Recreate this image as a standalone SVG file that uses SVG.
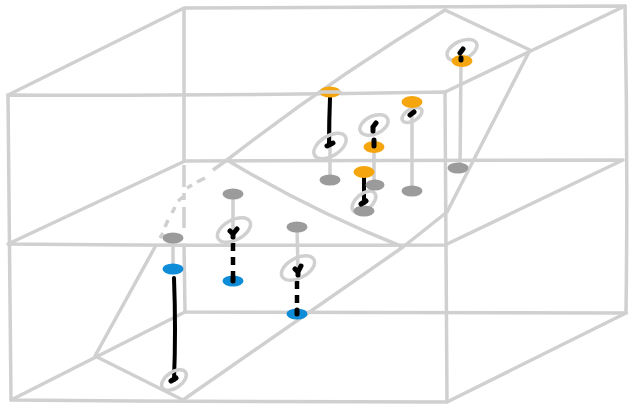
<svg xmlns="http://www.w3.org/2000/svg" width="631" height="405" viewBox="0 0 631 405">
<style>
.g{fill:none;stroke:#d0d0d0;stroke-width:3.5;stroke-linecap:round;stroke-linejoin:round}
.d{stroke-linecap:butt}
.s{fill:none;stroke:#d0d0d0;stroke-width:3.5;stroke-linecap:round}
.k{fill:none;stroke:#000;stroke-width:4;stroke-linecap:round;stroke-linejoin:round}
.kd{fill:none;stroke:#000;stroke-width:4.5;stroke-dasharray:8 6}
.t{fill:none;stroke:#000;stroke-width:5;stroke-linecap:round;stroke-linejoin:round}
.o{fill:#f5a60f}.b{fill:#0f8cd8}.h{fill:#9b9b9b}
</style>
<g id="box">
<path class="g" d="M8 95Q200 96 445 92L447 402Q230 402 11 400Q9 240 8 95Z"/>
<path class="g" d="M8 95L184 8Q400 8 625 6Q628 160 626 313Q400 313 185 312L184 245M184 161L184 8"/>
<path class="g" d="M445 92L625 6M11 400L185 312M447 402L626 313"/>
<path class="g" d="M8 244L185 161Q400 161 623 160L445 245Q220 246 8 244Z"/>
<path class="g" d="M445 10L530 50L447 212L403 247L183 400L95 356L155 247M445 10Q330 80 227 160Q310 210 403 247"/>
<path class="g d" d="M184 165V187M184 193V200M184 207V228M227 160L213 170M205 178L197 182M192 185L187 188M183 197L178 201M175 207L172 213M168 220L165 227M163 233L160 238"/>
</g>
<g id="connectors">
<path class="s" d="M330 92V180M374 147V185M412 103L412 190M461 62L460 168M233 194V231M173 238V269M297 227L298 268"/>
<path class="k" d="M330 98Q329 120 329 144M364 172V203M174 278Q176 330 174 380"/>
<path class="kd" d="M233 243V281M297 281V314"/>
</g>
<g id="rings">
<ellipse class="s" cx="330" cy="146" rx="18" ry="10" transform="rotate(-32 330 146)"/>
<ellipse class="s" cx="374" cy="125" rx="15" ry="9" transform="rotate(-25 374 125)"/>
<ellipse class="s" cx="412" cy="115" rx="11" ry="6" transform="rotate(-30 412 115)"/>
<ellipse class="s" cx="364" cy="202" rx="14" ry="8" transform="rotate(-40 364 202)"/>
<ellipse class="s" cx="462" cy="50" rx="16" ry="9" transform="rotate(-25 462 50)"/>
<ellipse class="s" cx="234" cy="230" rx="18" ry="10" transform="rotate(-28 234 230)"/>
<ellipse class="s" cx="298" cy="268" rx="18" ry="10" transform="rotate(-28 298 268)"/>
<ellipse class="s" cx="174" cy="380" rx="14" ry="8" transform="rotate(-35 174 380)"/>
</g>
<g id="discs">
<ellipse class="h" cx="330" cy="180" rx="10.500" ry="5.500"/>
<ellipse class="h" cx="375" cy="185" rx="9.500" ry="5.500"/>
<ellipse class="h" cx="412" cy="191" rx="10.500" ry="5.500"/>
<ellipse class="h" cx="458" cy="168" rx="10.500" ry="5.500"/>
<ellipse class="h" cx="364" cy="211" rx="10.500" ry="5.500"/>
<ellipse class="h" cx="233" cy="194" rx="10.500" ry="5.500"/>
<ellipse class="h" cx="297" cy="227" rx="10.500" ry="5.500"/>
<ellipse class="h" cx="173" cy="238" rx="10.500" ry="5.500"/>
<ellipse class="o" cx="330" cy="92" rx="10.500" ry="5.500"/>
<ellipse class="o" cx="374" cy="147" rx="10.500" ry="6"/>
<ellipse class="o" cx="412" cy="102" rx="10.500" ry="6"/>
<ellipse class="o" cx="364" cy="172" rx="10.500" ry="6"/>
<ellipse class="o" cx="462" cy="61" rx="10.500" ry="6"/>
<ellipse class="b" cx="173" cy="269" rx="10.500" ry="5.500"/>
<ellipse class="b" cx="233" cy="281" rx="10.500" ry="5.500"/>
<ellipse class="b" cx="297" cy="314" rx="10.500" ry="5.500"/>
</g>
<path class="s" d="M320 92H340"/>
<g id="marks">
<path class="t" d="M327 146L333 143M373 127V131M373 127L376 123M410 115L414 112M460 53L463 49M461 58V60M374 140V146M230 231L233 234L237 229M295 269L298 272L301 266M171 381L176 378M361 204L366 201M233 277V281M297 310V314M233 234V237M298 272V275"/>
</g>
</svg>
